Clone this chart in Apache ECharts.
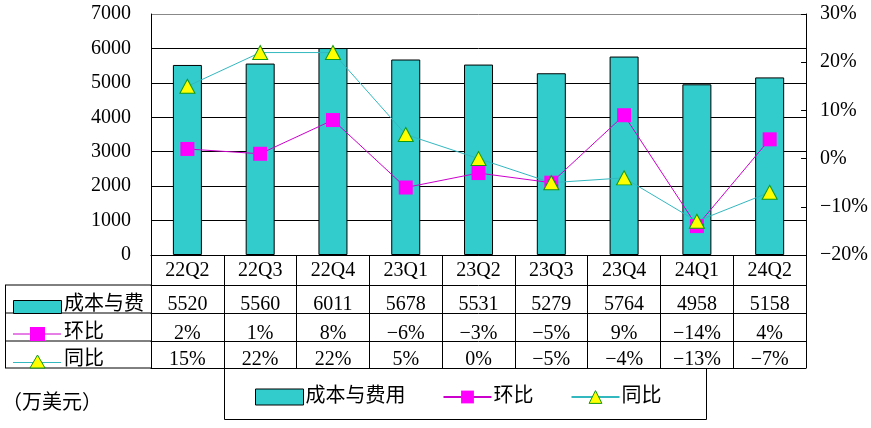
<!DOCTYPE html>
<html>
<head>
<meta charset="utf-8">
<script src="https://cdn.jsdelivr.net/npm/echarts@6/dist/echarts.min.js"></script>
<style>
html,body{margin:0;padding:0;background:#fff;}
#chart{width:871px;height:428px;}
</style>
</head>
<body>
<div id="chart"></div>
<script>
// ---- data ----
const categories = ['22Q2','22Q3','22Q4','23Q1','23Q2','23Q3','23Q4','24Q1','24Q2'];
const costValues = [5520, 5560, 6011, 5678, 5531, 5279, 5764, 4958, 5158];
const qoqValues  = [2, 1, 8, -6, -3, -5, 9, -14, 4];
const yoyValues  = [15, 22, 22, 5, 0, -5, -4, -13, -7];
const seriesNames = ['成本与费用', '环比', '同比'];
const rowLabels = ['成本与费', '环比', '同比'];
const unitLabel = '（万美元）';

const FONT = "'Liberation Serif', 'Noto Sans CJK SC', serif";
const fmtPct = v => (v < 0 ? '\u2212' + Math.abs(v) : String(v)) + '%';
const C_BAR = '#33CCCC', C_QOQ_LINE = '#CC00CC', C_QOQ = '#FF00FF', C_YOY_LINE = '#33B8C0', C_TRI = '#FFFF00', C_TRI_B = '#119911';

const chart = echarts.init(document.getElementById('chart'), null, {renderer: 'canvas'});

function rowAxis(offset, margin, formatter, showLabel) {
  return {
    type: 'category', data: categories, position: 'bottom', offset: offset,
    axisLine: {show: true, onZero: false, lineStyle: {color: '#000', width: 1}},
    axisTick: {show: false},
    axisLabel: {show: showLabel, interval: 0, margin: margin, verticalAlign: 'middle',
      color: '#000', fontSize: 20, fontFamily: FONT, formatter: formatter}
  };
}

const option = {
  animation: false,
  backgroundColor: '#fff',
  textStyle: {fontFamily: FONT},
  grid: {left: 151, right: 62, top: 14, bottom: 173, containLabel: false},
  legend: {
    data: [{name: seriesNames[0], icon: 'rect'}, {name: seriesNames[1]}, {name: seriesNames[2]}],
    left: 255, top: 387,
    itemWidth: 48, itemHeight: 16, itemGap: 37,
    textStyle: {color: '#000', fontSize: 20, fontFamily: FONT, padding: [0, 0, 0, -3]},
    itemStyle: {borderWidth: 1},
    padding: 0
  },
  xAxis: [
    {
      type: 'category', data: categories, position: 'bottom',
      axisLine: {show: true, onZero: false, lineStyle: {color: '#000', width: 1}},
      axisTick: {show: true, interval: 0, length: 113, lineStyle: {color: '#000', width: 1}},
      axisLabel: {interval: 0, margin: 16, verticalAlign: 'middle', color: '#000', fontSize: 20, fontFamily: FONT}
    },
    rowAxis(30, 20, (v, i) => String(costValues[i]), true),
    rowAxis(58, 21, (v, i) => fmtPct(qoqValues[i]), true),
    rowAxis(86, 19, (v, i) => fmtPct(yoyValues[i]), true),
    rowAxis(113, 10, () => '', false)
  ],
  yAxis: [
    {
      type: 'value', min: 0, max: 7000, interval: 1000, position: 'left',
      axisLine: {show: true, onZero: false, lineStyle: {color: '#000', width: 1}},
      axisTick: {show: false},
      axisLabel: {margin: 20, color: '#000', fontSize: 20, fontFamily: FONT, formatter: v => String(v)},
      splitLine: {show: true, lineStyle: {color: ['#000','#000','#000','#000','#000','#000','#000','#888'], width: 1}}
    },
    {
      type: 'value', min: -20, max: 30, interval: 10, position: 'right',
      axisLine: {show: true, onZero: false, lineStyle: {color: '#000', width: 1}},
      axisTick: {show: true, inside: true, length: 5, lineStyle: {color: '#000'}},
      axisLabel: {margin: 14, color: '#000', fontSize: 20, fontFamily: FONT, formatter: v => fmtPct(v)},
      splitLine: {show: false}
    }
  ],
  series: [
    {
      name: seriesNames[0], type: 'bar', xAxisIndex: 0, yAxisIndex: 0,
      data: costValues, barWidth: 29,
      itemStyle: {color: C_BAR, borderColor: '#000', borderWidth: 1}
    },
    {
      name: seriesNames[1], type: 'line', xAxisIndex: 0, yAxisIndex: 1,
      data: qoqValues, symbol: 'rect', symbolSize: 14,
      lineStyle: {color: C_QOQ_LINE, width: 1},
      itemStyle: {color: C_QOQ, borderWidth: 0}
    },
    {
      name: seriesNames[2], type: 'line', xAxisIndex: 0, yAxisIndex: 1,
      data: yoyValues, symbol: 'triangle', symbolSize: [15, 14],
      lineStyle: {color: C_YOY_LINE, width: 1},
      itemStyle: {color: C_TRI, borderColor: C_TRI_B, borderWidth: 1}
    }
  ],
  graphic: [
    // left column of data table
    {type: 'line', shape: {x1: 5, y1: 285, x2: 151, y2: 285}, style: {stroke: '#000', lineWidth: 1}},
    {type: 'line', shape: {x1: 5, y1: 313, x2: 151, y2: 313}, style: {stroke: '#000', lineWidth: 1}},
    {type: 'line', shape: {x1: 5, y1: 341, x2: 151, y2: 341}, style: {stroke: '#000', lineWidth: 1}},
    {type: 'line', shape: {x1: 5, y1: 368, x2: 151, y2: 368}, style: {stroke: '#000', lineWidth: 1}},
    {type: 'line', shape: {x1: 5.5, y1: 285, x2: 5.5, y2: 368}, style: {stroke: '#000', lineWidth: 1}},
    // row keys
    {type: 'rect', shape: {x: 13.5, y: 300.5, width: 48, height: 13}, style: {fill: C_BAR, stroke: '#000', lineWidth: 1}},
    {type: 'text', x: 64, y: 305, style: {text: rowLabels[0], fill: '#000', font: "20px " + FONT, verticalAlign: 'middle'}},
    {type: 'line', shape: {x1: 13, y1: 334, x2: 61, y2: 334}, style: {stroke: C_QOQ_LINE, lineWidth: 1}},
    {type: 'rect', shape: {x: 30, y: 327, width: 15, height: 14}, style: {fill: C_QOQ}},
    {type: 'text', x: 64, y: 333, style: {text: rowLabels[1], fill: '#000', font: "20px " + FONT, verticalAlign: 'middle'}},
    {type: 'line', shape: {x1: 13, y1: 362.5, x2: 61, y2: 362.5}, style: {stroke: C_YOY_LINE, lineWidth: 1}},
    {type: 'polygon', shape: {points: [[37.5, 355], [30, 368], [45, 368]]}, style: {fill: C_TRI, stroke: C_TRI_B, lineWidth: 1}},
    {type: 'text', x: 64, y: 360, style: {text: rowLabels[2], fill: '#000', font: "20px " + FONT, verticalAlign: 'middle'}},
    // legend box
    {type: 'rect', shape: {x: 224.5, y: 368.5, width: 482, height: 51}, style: {fill: 'none', stroke: '#000', lineWidth: 1}, z: -1},
    // unit label
    {type: 'text', x: 2, y: 404, style: {text: unitLabel, fill: '#000', font: "20px " + FONT, verticalAlign: 'middle'}}
  ]
};
chart.setOption(option);
</script>
</body>
</html>
